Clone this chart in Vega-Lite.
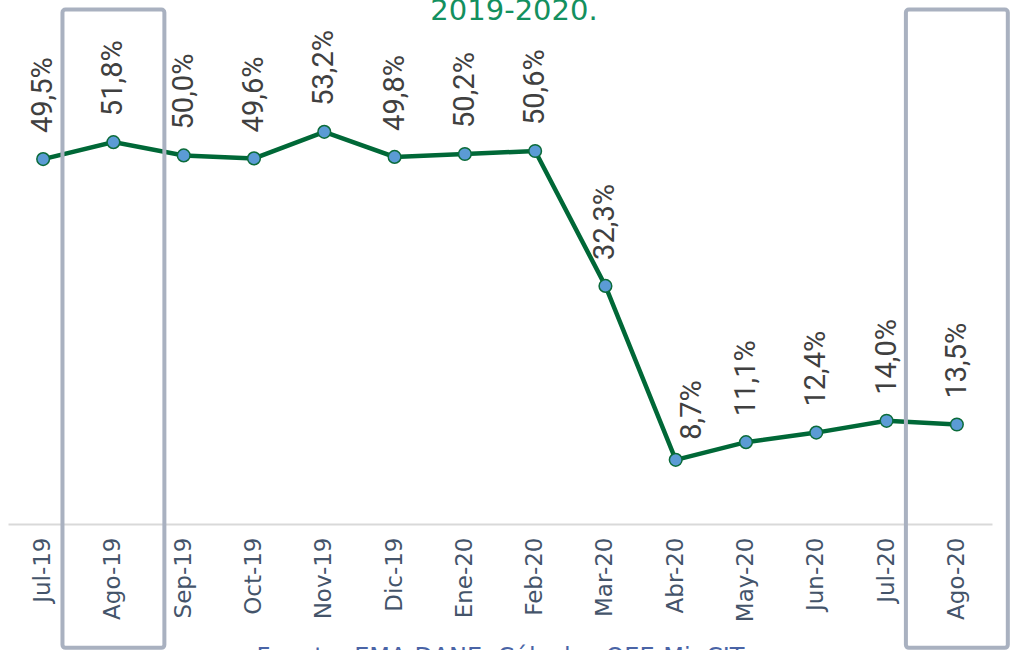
{
  "$schema": "https://vega.github.io/schema/vega-lite/v6.json",
  "autosize": {"type": "none"},
  "padding": {"left": 8, "top": 8, "right": 25, "bottom": 126},
  "width": 984,
  "height": 516,
  "config": {
    "view": {"stroke": null},
    "locale": {"number": {"decimal": ",", "thousands": ".", "grouping": [3], "currency": ["$", ""]}}
  },
  "title": {
    "text": "2019-2020.",
    "orient": "top",
    "anchor": "middle",
    "frame": "group",
    "offset": -42,
    "dx": 14,
    "baseline": "alphabetic",
    "font": "DejaVu Sans",
    "fontSize": 29,
    "fontWeight": "normal",
    "color": "#13905f"
  },
  "datasets": {
    "serie": [
      {"mes": "Jul-19", "valor": 0.495},
      {"mes": "Ago-19", "valor": 0.518},
      {"mes": "Sep-19", "valor": 0.500},
      {"mes": "Oct-19", "valor": 0.496},
      {"mes": "Nov-19", "valor": 0.532},
      {"mes": "Dic-19", "valor": 0.498},
      {"mes": "Ene-20", "valor": 0.502},
      {"mes": "Feb-20", "valor": 0.506},
      {"mes": "Mar-20", "valor": 0.323},
      {"mes": "Abr-20", "valor": 0.087},
      {"mes": "May-20", "valor": 0.111},
      {"mes": "Jun-20", "valor": 0.124},
      {"mes": "Jul-20", "valor": 0.140},
      {"mes": "Ago-20", "valor": 0.135}
    ],
    "recuadros": [
      {"mes": "Ago-19", "arriba": 0.698, "abajo": -0.168},
      {"mes": "Ago-20", "arriba": 0.698, "abajo": -0.168}
    ]
  },
  "encoding": {
    "x": {
      "field": "mes",
      "type": "nominal",
      "sort": null,
      "scale": {"type": "band", "paddingInner": 0, "paddingOuter": 0, "domain": ["Jul-19","Ago-19","Sep-19","Oct-19","Nov-19","Dic-19","Ene-20","Feb-20","Mar-20","Abr-20","May-20","Jun-20","Jul-20","Ago-20"]},
      "axis": {
        "title": "Fuente: EMA-DANE. Cálculos OEE-MinCIT",
        "titleFont": "DejaVu Sans",
        "titleFontSize": 24,
        "titleFontWeight": "normal",
        "titleColor": "#4a64a6",
        "titlePadding": 24,
        "labelAngle": 270,
        "labelFont": "DejaVu Sans",
        "labelFontSize": 23,
        "labelColor": "#44546a",
        "labelPadding": 13,
        "ticks": false,
        "grid": false,
        "domainColor": "#d9d9d9",
        "domainWidth": 2
      }
    }
  },
  "layer": [
    {
      "data": {"name": "serie"},
      "mark": {"type": "line", "color": "#006837", "strokeWidth": 4.5},
      "encoding": {
        "y": {"field": "valor", "type": "quantitative", "scale": {"domain": [0, 0.7], "nice": false, "zero": true}, "axis": null}
      }
    },
    {
      "data": {"name": "serie"},
      "mark": {"type": "point", "filled": true, "fill": "#5b9bd5", "stroke": "#0b6b3a", "strokeWidth": 1.5, "size": 160, "opacity": 1},
      "encoding": {
        "y": {"field": "valor", "type": "quantitative"}
      }
    },
    {
      "data": {"name": "serie"},
      "transform": [{"filter": "datum.mes != 'Abr-20'"}],
      "mark": {"type": "text", "angle": 270, "align": "left", "baseline": "middle", "dx": 26, "font": "Roboto", "fontSize": 29, "color": "#404040"},
      "encoding": {
        "y": {"field": "valor", "type": "quantitative"},
        "text": {"field": "valor", "type": "quantitative", "format": ".1%"}
      }
    },
    {
      "data": {"name": "serie"},
      "transform": [{"filter": "datum.mes == 'Abr-20'"}],
      "mark": {"type": "text", "angle": 270, "align": "left", "baseline": "middle", "dx": 20, "dy": 16, "font": "Roboto", "fontSize": 29, "color": "#404040"},
      "encoding": {
        "y": {"field": "valor", "type": "quantitative"},
        "text": {"field": "valor", "type": "quantitative", "format": ".1%"}
      }
    },
    {
      "data": {"name": "recuadros"},
      "mark": {"type": "bar", "filled": false, "stroke": "#a9b1c0", "strokeWidth": 4, "cornerRadius": 3, "width": {"band": 1.45}, "clip": false},
      "encoding": {
        "y": {"field": "arriba", "type": "quantitative"},
        "y2": {"field": "abajo"}
      }
    }
  ]
}
